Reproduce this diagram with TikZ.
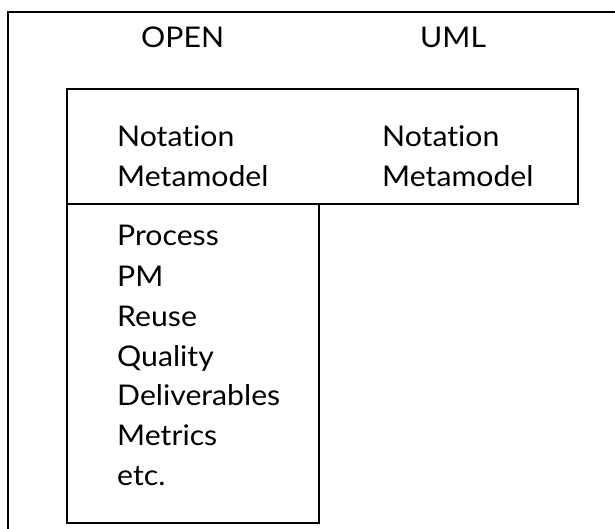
\documentclass[tikz,border=0pt]{standalone}
\usepackage{fontspec}
\setmainfont{Lato}[Ligatures=NoCommon]
\begin{document}
\begin{tikzpicture}[x=1pt,y=-1pt,
  frame/.style={line width=1.3pt},
  lbl/.style={anchor=base west,inner sep=0pt,xscale=1.06,font=\fontsize{28.5}{30}\selectfont}]
\useasboundingbox (0,0) rectangle (615,529);
% outer frame (open at right and bottom)
\draw[frame] (615,12) -- (8,12) -- (8,529);
% boxes
\draw[frame] (67,89) rectangle (578,204);
\draw[frame] (67,204) rectangle (319,523);
% headings
\node[lbl] (open) at (141,48) {OPEN};
\node[lbl] (uml) at (420,48) {UML};
% upper box
\node[lbl] (n1) at (117,147) {Notation};
\node[lbl] (m1) at (117,187) {Metamodel};
\node[lbl] (n2) at (382,147) {Notation};
\node[lbl] (m2) at (382,187) {Metamodel};
% lower box
\node[lbl] (p1) at (117,246) {Process};
\node[lbl] (p2) at (117,286) {PM};
\node[lbl] (p3) at (117,326) {Reuse};
\node[lbl] (p4) at (117,366) {Quality};
\node[lbl] (p5) at (117,405) {Deliverables};
\node[lbl] (p6) at (117,445) {Metrics};
\node[lbl] (p7) at (117,485) {etc.};
\end{tikzpicture}
\end{document}
